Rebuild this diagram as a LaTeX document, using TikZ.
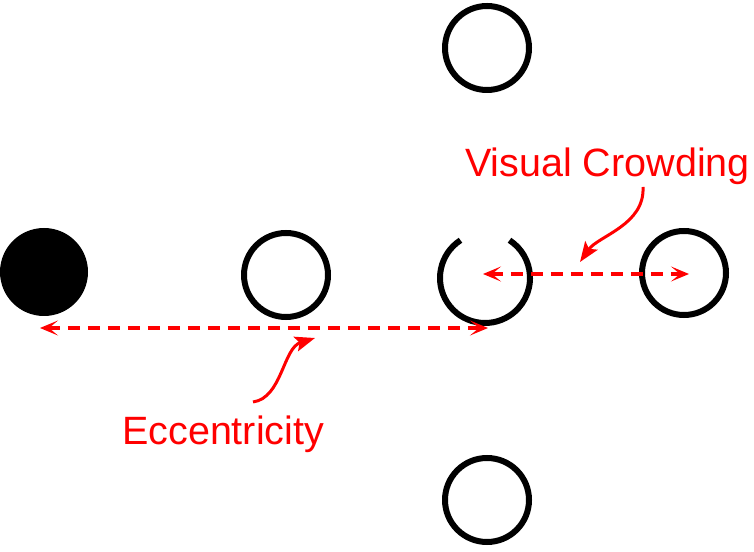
\documentclass[tikz,border=0pt]{standalone}
\usepackage{fontspec}
\setmainfont{Liberation Sans}
\usetikzlibrary{arrows.meta}
\definecolor{lblred}{RGB}{255,0,0}
\tikzset{
  ring/.style={circle, draw=black, line width=6pt, inner sep=0pt, minimum size=84pt},
  dot/.style={circle, fill=black, inner sep=0pt, minimum size=88pt},
  span/.style={draw=lblred, line width=3.4pt, dash pattern=on 12pt off 8pt,
    {Stealth[length=18pt,width=15pt,inset=9pt]}-{Stealth[length=18pt,width=15pt,inset=9pt]}},
  pointer/.style={draw=lblred, line width=3pt, -{Stealth[length=20pt,width=15pt,inset=4pt]}},
  lbl/.style={text=lblred, inner sep=0pt, anchor=base west, font=\fontsize{39.5pt}{42pt}\selectfont}
}
\begin{document}
\begin{tikzpicture}[x=1pt,y=1pt]
\useasboundingbox (0,0) rectangle (754,551);
% stimuli
\node[dot] (fix) at (44,279) {};
\node[ring] (mid) at (286,276) {};
\node[ring] (top) at (487,503) {};
\node[ring] (bot) at (487,51) {};
\node[ring] (right) at (684,278) {};
\coordinate (cring) at (485,273);
\draw[line width=6pt] ([shift={(123:45pt)}]cring) arc[start angle=123, end angle=417, radius=45pt];
% labels
\node[lbl] (ecc) at (122,106) {Eccentricity};
\node[lbl] (vc) at (465,374) {Visual Crowding};
% spans
\coordinate (e1) at (40,223);
\coordinate (e2) at (488,223);
\coordinate (v1) at (483,277);
\coordinate (v2) at (689,277);
\draw[span] (e1) -- (e2);
\draw[span] (v1) -- (v2);
% pointers
\coordinate (eccstart) at (253,149);
\coordinate (ecctip) at (315,213);
\coordinate (vcstart) at (643,364);
\coordinate (vctip) at (580,289);
\draw[pointer] (eccstart) .. controls (282,153) and (283,203) .. (ecctip);
\draw[pointer] (vcstart) .. controls (645,326) and (598,315) .. (vctip);
\end{tikzpicture}
\end{document}
